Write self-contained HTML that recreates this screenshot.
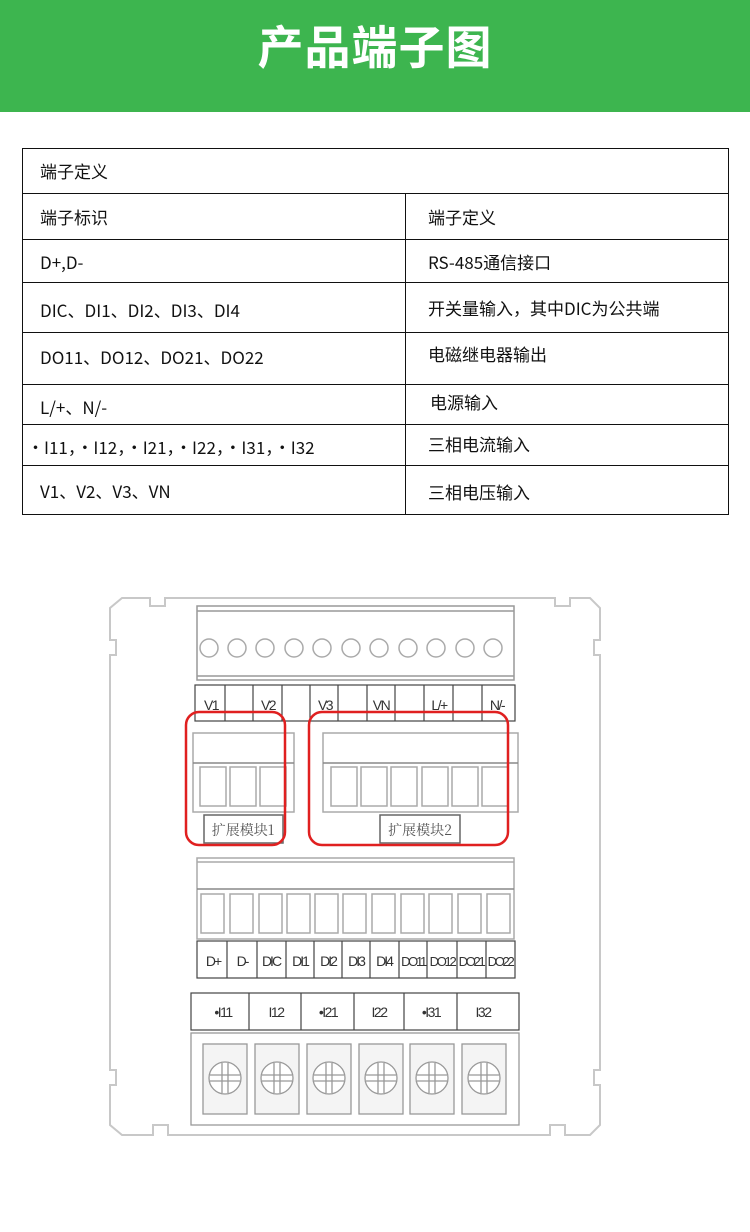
<!DOCTYPE html>
<html><head><meta charset="utf-8"><style>
body{margin:0;width:750px;height:1232px;background:#fff;position:relative;overflow:hidden;font-family:"Liberation Sans","Noto Sans CJK SC",sans-serif;}
.bar{position:absolute;left:0;top:0;width:750px;height:112px;background:#3db54f;}
.bar div{position:absolute;top:12px;width:750px;text-align:center;color:#fff;font-size:46px;font-weight:bold;letter-spacing:1px;font-family:"Noto Sans CJK SC",sans-serif;}
.t{position:absolute;font-size:17px;color:#111;font-family:"Noto Sans CJK SC",sans-serif;}
.ln{position:absolute;background:#111;}
</style></head><body>
<div class="bar"><div>产品端子图</div></div>
<div style="position:absolute;left:22px;top:148px;width:705px;height:365px;border:1px solid #111;"></div>
<div class="ln" style="left:22px;top:193px;width:707px;height:1px"></div>
<div class="ln" style="left:22px;top:239px;width:707px;height:1px"></div>
<div class="ln" style="left:22px;top:282px;width:707px;height:1px"></div>
<div class="ln" style="left:22px;top:332px;width:707px;height:1px"></div>
<div class="ln" style="left:22px;top:384px;width:707px;height:1px"></div>
<div class="ln" style="left:22px;top:424px;width:707px;height:1px"></div>
<div class="ln" style="left:22px;top:465px;width:707px;height:1px"></div>
<div class="ln" style="left:405px;top:193px;width:1px;height:321px"></div>
<div class="t" style="left:40px;top:158px">端子定义</div>
<div class="t" style="left:40px;top:204px">端子标识</div>
<div class="t" style="left:428px;top:204px">端子定义</div>
<div class="t" style="left:40px;top:249px">D+,D-</div>
<div class="t" style="left:428px;top:249px">RS-485通信接口</div>
<div class="t" style="left:40px;top:297px">DIC、DI1、DI2、DI3、DI4</div>
<div class="t" style="left:428px;top:295px">开关量输入，其中DIC为公共端</div>
<div class="t" style="left:40px;top:344px">DO11、DO12、DO21、DO22</div>
<div class="t" style="left:428px;top:341px">电磁继电器输出</div>
<div class="t" style="left:40px;top:394px">L/+、N/-</div>
<div class="t" style="left:430px;top:389px">电源输入</div>
<div class="t" style="left:27px;top:434px">·I11，·I12，·I21，·I22，·I31，·I32</div>
<div class="t" style="left:428px;top:431px">三相电流输入</div>
<div class="t" style="left:40px;top:478px">V1、V2、V3、VN</div>
<div class="t" style="left:428px;top:479px">三相电压输入</div>

<svg style="position:absolute;left:0;top:0" width="750" height="1232" font-family="Liberation Sans, Noto Sans CJK SC, sans-serif">
<g fill="none" stroke="#c8c8c8" stroke-width="2">
<path d="M122,598 H150 V606 H165 V598 H555 V606 H570 V598 H590 L600,608 V640 H594 V655 H600 V1070 H594 V1085 H600 V1125 L590,1135 H565 V1125 H550 V1135 H168 V1125 H153 V1135 H122 L110,1125 V1085 H116 V1070 H110 V655 H116 V640 H110 V608 Z"/>
</g>
<g fill="none" stroke="#999" stroke-width="1.5">
<rect x="197" y="606" width="317" height="74"/>
<line x1="197" y1="611" x2="514" y2="611"/>
<line x1="197" y1="676" x2="514" y2="676"/>
</g>
<g fill="none" stroke="#aaa" stroke-width="1.5">
<circle cx="209" cy="648" r="9"/><circle cx="237" cy="648" r="9"/><circle cx="265" cy="648" r="9"/><circle cx="294" cy="648" r="9"/><circle cx="322" cy="648" r="9"/><circle cx="351" cy="648" r="9"/><circle cx="379" cy="648" r="9"/><circle cx="408" cy="648" r="9"/><circle cx="436" cy="648" r="9"/><circle cx="465" cy="648" r="9"/><circle cx="493" cy="648" r="9"/>
</g>
<g fill="none" stroke="#444" stroke-width="1.2">
<rect x="195" y="685" width="320" height="36"/>
<path d="M225,685V721M253,685V721M282,685V721M310,685V721M338,685V721M367,685V721M395,685V721M424,685V721M453,685V721M482,685V721"/>
</g>
<g font-size="14" fill="#333" text-anchor="middle" letter-spacing="-1.5">
<text x="211" y="710">V1</text><text x="268" y="710">V2</text><text x="325" y="710">V3</text><text x="381" y="710">VN</text><text x="439" y="710">L/+</text><text x="497" y="710">N/-</text>
</g>
<g fill="none" stroke="#aaa" stroke-width="1.5">
<rect x="193" y="733" width="101" height="79"/>
<line x1="193" y1="763" x2="294" y2="763" stroke="#888"/>
<rect x="200" y="767" width="26" height="39"/><rect x="230" y="767" width="26" height="39"/><rect x="260" y="767" width="26" height="39"/>
<rect x="323" y="733" width="195" height="79"/>
<line x1="323" y1="763" x2="518" y2="763" stroke="#888"/>
<rect x="331" y="767" width="26" height="39"/><rect x="361" y="767" width="26" height="39"/><rect x="391" y="767" width="26" height="39"/><rect x="422" y="767" width="26" height="39"/><rect x="452" y="767" width="26" height="39"/><rect x="482" y="767" width="26" height="39"/>
<rect x="204" y="815" width="79" height="28" stroke="#666"/>
<rect x="380" y="815" width="80" height="28" stroke="#666"/>
</g>
<g font-size="14" fill="#555" text-anchor="middle" font-family="Noto Serif CJK SC, serif">
<text x="243" y="835">扩展模块1</text><text x="420" y="835">扩展模块2</text>
</g>
<rect x="186" y="712" width="99" height="133" rx="13" fill="none" stroke="#e02020" stroke-width="2.5"/>
<rect x="309" y="712" width="199" height="133" rx="13" fill="none" stroke="#e02020" stroke-width="2.5"/>
<g fill="none" stroke="#aaa" stroke-width="1.5">
<rect x="197" y="858" width="317" height="81"/>
<line x1="197" y1="862" x2="514" y2="862"/>
<line x1="197" y1="889" x2="514" y2="889" stroke="#888"/>
<rect x="201" y="894" width="23" height="39"/><rect x="230" y="894" width="23" height="39"/><rect x="259" y="894" width="23" height="39"/><rect x="287" y="894" width="23" height="39"/><rect x="315" y="894" width="23" height="39"/><rect x="343" y="894" width="23" height="39"/><rect x="372" y="894" width="23" height="39"/><rect x="401" y="894" width="23" height="39"/><rect x="429" y="894" width="23" height="39"/><rect x="458" y="894" width="23" height="39"/><rect x="487" y="894" width="23" height="39"/>
</g>
<g fill="none" stroke="#444" stroke-width="1.2">
<rect x="197" y="941" width="318" height="37"/>
<path d="M227,941V978M257,941V978M286,941V978M314,941V978M342,941V978M370,941V978M399,941V978M427,941V978M457,941V978M486,941V978"/>
<rect x="191" y="993" width="328" height="37"/>
<path d="M249,993V1030M301,993V1030M354,993V1030M404,993V1030M457,993V1030"/>
</g>
<g font-size="14" fill="#333" text-anchor="middle" letter-spacing="-2">
<text x="213" y="966">D+</text><text x="242" y="966">D-</text><text x="271" y="966">DIC</text><text x="300" y="966">DI1</text><text x="328" y="966">DI2</text><text x="356" y="966">DI3</text><text x="384" y="966">DI4</text><text x="413" y="966" font-size="13" letter-spacing="-2.3">DO11</text><text x="442" y="966" font-size="13" letter-spacing="-2.3">DO12</text><text x="471" y="966" font-size="13" letter-spacing="-2.3">DO21</text><text x="500" y="966" font-size="13" letter-spacing="-2.3">DO22</text>
</g>
<g font-size="14" fill="#333" text-anchor="middle" letter-spacing="-1.5">
<text x="223" y="1017">•I11</text><text x="276" y="1017">I12</text><text x="328" y="1017">•I21</text><text x="379" y="1017">I22</text><text x="431" y="1017">•I31</text><text x="483" y="1017">I32</text>
</g>
<g fill="none" stroke="#999" stroke-width="1.3">
<rect x="191" y="1033" width="328" height="92"/>
<g id="s">
<rect x="203" y="1044" width="44" height="70" fill="#f4f4f4"/>
<circle cx="225" cy="1078" r="16" fill="#fff"/>
<path d="M210,1075H240M210,1081H240M222,1063V1093M228,1063V1093"/>
</g>
<use href="#s" x="52"/><use href="#s" x="104"/><use href="#s" x="156"/><use href="#s" x="207"/><use href="#s" x="259"/>
</g>
</svg>
</body></html>
